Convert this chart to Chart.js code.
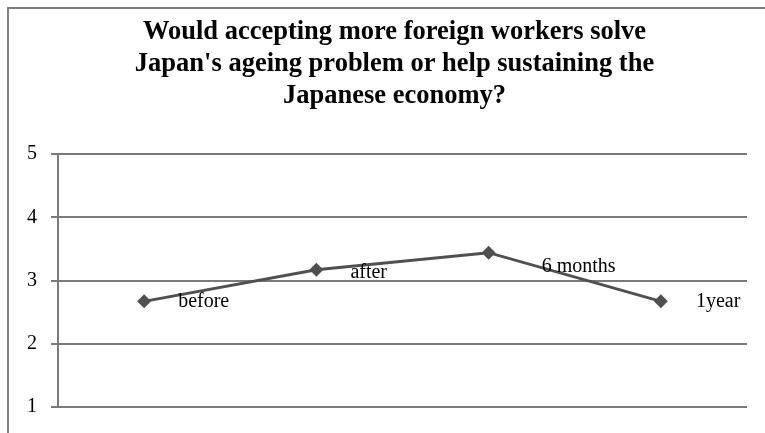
<!DOCTYPE html>
<html>
<head>
<meta charset="utf-8">
<script src="https://cdn.jsdelivr.net/npm/chart.js@4/dist/chart.umd.min.js"></script>
<style>
  html, body { margin: 0; padding: 0; background: #ffffff; }
  #wrap { width: 765px; height: 433px; position: relative; }
</style>
</head>
<body>
<div id="wrap"><canvas id="c" width="765" height="433"></canvas></div>
<script>
const categories = ['before', 'after', '6 months', '1year'];
const values = [2.67, 3.17, 3.44, 2.67];
const yTicks = [1, 2, 3, 4, 5];
const titleLines = [
  'Would accepting more foreign workers solve',
  "Japan's ageing problem or help sustaining the",
  'Japanese economy?'
];

const frame = {
  id: 'frame',
  beforeDraw(chart) {
    const ctx = chart.ctx;
    ctx.save();
    ctx.fillStyle = '#ffffff';
    ctx.fillRect(0, 0, chart.width, chart.height);
    ctx.strokeStyle = '#7f7f7f';
    ctx.lineWidth = 2;
    ctx.strokeRect(8, 8, chart.width + 20, chart.height + 20);
    ctx.restore();
  }
};

const pointLabels = {
  id: 'pointLabels',
  afterDatasetsDraw(chart, args, opts) {
    const ctx = chart.ctx;
    const meta = chart.getDatasetMeta(0);
    ctx.save();
    ctx.font = opts.font;
    ctx.fillStyle = opts.color;
    ctx.textAlign = 'left';
    ctx.textBaseline = 'alphabetic';
    meta.data.forEach((pt, i) => {
      ctx.fillText(chart.data.labels[i], pt.x + opts.dx[i], pt.y + opts.dy[i]);
    });
    ctx.restore();
  }
};

new Chart(document.getElementById('c'), {
  type: 'line',
  data: {
    labels: categories,
    datasets: [{
      data: values,
      borderColor: '#505050',
      backgroundColor: '#505050',
      borderWidth: 3,
      pointStyle: 'rectRot',
      pointRadius: 7,
      pointHoverRadius: 7,
      pointBorderWidth: 0,
      tension: 0,
      fill: false
    }]
  },
  options: {
    responsive: false,
    animation: false,
    devicePixelRatio: 1,
    layout: { padding: { left: 42, right: 18, top: 0, bottom: 24 } },
    plugins: {
      legend: { display: false },
      tooltip: { enabled: false },
      title: {
        display: true,
        text: titleLines,
        color: '#000000',
        font: { family: '"Liberation Serif", "Times New Roman", serif', size: 26.5, weight: 'bold', lineHeight: 32 / 26.5 },
        padding: { top: 16, bottom: 42 }
      },
      pointLabels: {
        font: '20px "Liberation Serif", "Times New Roman", serif',
        color: '#000000',
        dx: [34, 34, 53, 35],
        dy: [6, 8, 19, 6]
      }
    },
    scales: {
      x: {
        type: 'category',
        offset: true,
        display: false
      },
      y: {
        min: 1,
        max: 5,
        afterBuildTicks(scale) { scale.ticks = yTicks.map(v => ({ value: v })); },
        afterFit(scale) {
          scale.width = 16;
          scale._computeLabelArea = () => undefined;
        },
        ticks: {
          color: '#000000',
          padding: 14,
          font: { family: '"Liberation Serif", "Times New Roman", serif', size: 20 }
        },
        grid: {
          color: '#7a7a7a',
          lineWidth: 2,
          tickLength: 7,
          drawTicks: true
        },
        border: { display: true, color: '#7a7a7a', width: 2 }
      }
    }
  },
  plugins: [frame, pointLabels]
});
</script>
</body>
</html>
